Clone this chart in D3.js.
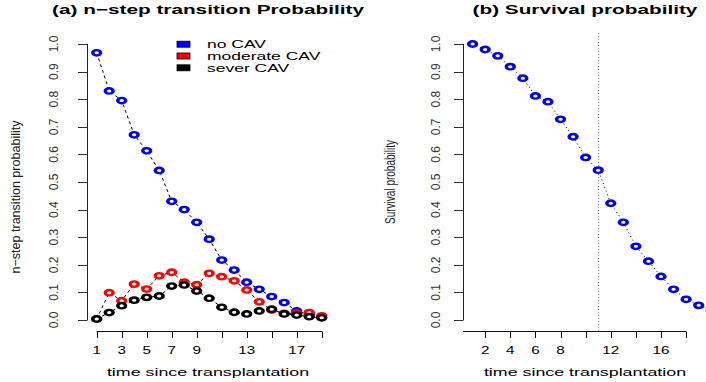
<!DOCTYPE html>
<html>
<head>
<meta charset="utf-8">
<script src="https://cdn.jsdelivr.net/npm/d3@7"></script>
<style>
  body { margin: 0; background: #fff; }
  text { font-family: "Liberation Sans", Arial, sans-serif; }
</style>
</head>
<body>
<div id="the_chart"></div>
<script>
// panel (a): n-step transition probabilities
var steps = [1, 2, 3, 4, 5, 6, 7, 8, 9, 10, 11, 12, 13, 14, 15, 16, 17, 18, 19];
var noCAV = [0.968, 0.830, 0.795, 0.671, 0.613, 0.542, 0.430, 0.400, 0.354, 0.293,
             0.217, 0.181, 0.137, 0.111, 0.085, 0.063, 0.033, 0.020, 0.010];
var moderateCAV = [0.004, 0.099, 0.070, 0.130, 0.112, 0.160, 0.173, 0.137, 0.128, 0.169,
                   0.157, 0.142, 0.109, 0.066, 0.036, 0.024, 0.025, 0.027, 0.015];
var severCAV = [0.004, 0.027, 0.052, 0.072, 0.082, 0.087, 0.123, 0.127, 0.105, 0.079,
                0.046, 0.028, 0.022, 0.033, 0.039, 0.022, 0.018, 0.012, 0.008];
var seriesNames = ["no CAV", "moderate CAV", "sever CAV"];
var seriesColors = ["#0000ff", "#ff0000", "#000000"];
var xTicksA = [1, 3, 5, 7, 9, 11, 13, 15, 17, 19];
var xLabelsA = [1, 3, 5, 7, 9, 13, 17];

// panel (b): survival
var survTime = [1, 2, 3, 4, 5, 6, 7, 8, 9, 10, 11, 12, 13, 14, 15, 16, 17, 18, 19, 20];
var survProb = [1.000, 0.980, 0.957, 0.918, 0.876, 0.812, 0.791, 0.727, 0.664, 0.589,
                0.543, 0.423, 0.354, 0.267, 0.213, 0.158, 0.111, 0.075, 0.053, 0.033];
var cutoff = 11;
var xTicksB = [2, 4, 6, 8, 10, 12, 14, 16, 18];
var xLabelsB = [2, 4, 6, 8, 12, 16];

var yTicks = [0, 0.1, 0.2, 0.3, 0.4, 0.5, 0.6, 0.7, 0.8, 0.9, 1.0];

var w = 706, h = 382;
var svg = d3.select("#the_chart").append("svg")
            .attr("width", w)
            .attr("height", h);

// the picture is wider than it is tall: stretch horizontal text to match
function stretch(sel, k) {
    sel.each(function() {
        var len = this.getComputedTextLength();
        d3.select(this).attr("textLength", len * k).attr("lengthAdjust", "spacingAndGlyphs");
    });
}

var yscale = d3.scaleLinear().domain([0, 1]).range([320, 44]);

function drawYAxis(x0, labelX) {
    var g = svg.append("g");
    g.append("line")
     .attr("x1", x0 + 0.5).attr("x2", x0 + 0.5)
     .attr("y1", yscale(0)).attr("y2", yscale(1))
     .attr("stroke", "#222");
    g.selectAll("line.tick").data(yTicks).enter().append("line")
     .attr("class", "tick")
     .attr("x1", x0 - 9).attr("x2", x0 + 0.5)
     .attr("y1", function(d) { return Math.round(yscale(d)) + 0.5; })
     .attr("y2", function(d) { return Math.round(yscale(d)) + 0.5; })
     .attr("stroke", "#333");
    g.selectAll("text").data(yTicks).enter().append("text")
     .attr("transform", function(d) { return "translate(" + labelX + "," + yscale(d) + ") rotate(-90)"; })
     .attr("text-anchor", "middle")
     .attr("font-size", 12)
     .attr("fill", "#333")
     .text(function(d) { return d3.format(".1f")(d); });
}

function drawXAxis(xscale, x1, x2, ticks, labels) {
    var g = svg.append("g");
    g.append("line")
     .attr("x1", x1).attr("x2", x2)
     .attr("y1", 331.5).attr("y2", 331.5)
     .attr("stroke", "#111");
    g.selectAll("line.tick").data(ticks).enter().append("line")
     .attr("class", "tick")
     .attr("x1", function(d) { return Math.round(xscale(d)) + 0.5; })
     .attr("x2", function(d) { return Math.round(xscale(d)) + 0.5; })
     .attr("y1", 331.5).attr("y2", 338)
     .attr("stroke", "#111");
    var lab = g.selectAll("text").data(labels).enter().append("text")
     .attr("x", function(d) { return xscale(d); })
     .attr("y", 354)
     .attr("text-anchor", "middle")
     .attr("font-size", 10.5)
     .text(function(d) { return d; });
    stretch(lab, 1.45);
}

function drawPoints(data, xs, color) {
    svg.append("g").selectAll("circle").data(data).enter().append("circle")
       .attr("transform", function(d) { return "translate(" + xs(d.x) + "," + yscale(d.y) + ") scale(1.45,1)"; })
       .attr("r", 2.7)
       .attr("fill", "#fff")
       .attr("stroke", color)
       .attr("stroke-width", 2.4);
}

function gen_transition() {
    var xscale = d3.scaleLinear().domain([1, 19]).range([96.7, 321.7]);
    var series = [noCAV, moderateCAV, severCAV];

    var line = d3.line()
                 .x(function(d) { return xscale(d.x); })
                 .y(function(d) { return yscale(d.y); });

    var tables = series.map(function(s) {
        return steps.map(function(t, i) { return {x: t, y: s[i]}; });
    });

    tables.forEach(function(tbl) {
        svg.append("path")
           .attr("d", line(tbl))
           .attr("fill", "none")
           .attr("stroke", "#000")
           .attr("stroke-width", 1)
           .attr("stroke-dasharray", "3,3");
    });
    tables.forEach(function(tbl, i) { drawPoints(tbl, xscale, seriesColors[i]); });

    drawYAxis(87, 58);
    drawXAxis(xscale, 96.7, 322, xTicksA, xLabelsA);

    var t = svg.append("text")
       .attr("x", 208).attr("y", 13.5)
       .attr("text-anchor", "middle")
       .attr("font-size", 12.5).attr("font-weight", "bold")
       .text("(a) n\u2212step transition Probability");
    stretch(t, 1.66);

    var xt = svg.append("text")
       .attr("x", 208).attr("y", 376)
       .attr("text-anchor", "middle")
       .attr("font-size", 11.5)
       .text("time since transplantation");
    stretch(xt, 1.55);

    svg.append("text")
       .attr("transform", "translate(20,197) rotate(-90)")
       .attr("text-anchor", "middle")
       .attr("font-size", 13)
       .attr("fill", "#222")
       .attr("textLength", 153).attr("lengthAdjust", "spacingAndGlyphs")
       .text("n\u2212step transition probability");

    // legend
    var leg = svg.append("g");
    seriesNames.forEach(function(name, i) {
        var cy = 44.2 + i * 11.8;
        leg.append("rect")
           .attr("x", 177).attr("y", cy - 3)
           .attr("width", 13).attr("height", 6)
           .attr("fill", seriesColors[i])
           .attr("stroke", "#000").attr("stroke-width", 0.8);
        var lt = leg.append("text")
           .attr("x", 207).attr("y", cy + 4)
           .attr("font-size", 11.5)
           .text(name);
        stretch(lt, 1.52);
    });
}

function gen_survival() {
    var xscale = d3.scaleLinear().domain([1, 19]).range([472.6, 698.7]);
    var tbl = survTime.map(function(t, i) { return {x: t, y: survProb[i]}; });

    svg.append("line")
       .attr("x1", Math.round(xscale(cutoff)) + 0.5).attr("x2", Math.round(xscale(cutoff)) + 0.5)
       .attr("y1", 33).attr("y2", 331)
       .attr("stroke", "#888")
       .attr("stroke-dasharray", "1,2");

    var line = d3.line()
                 .x(function(d) { return xscale(d.x); })
                 .y(function(d) { return yscale(d.y); });
    svg.append("path")
       .attr("d", line(tbl))
       .attr("fill", "none")
       .attr("stroke", "#000")
       .attr("stroke-dasharray", "1,3");
    drawPoints(tbl, xscale, "#0000ff");

    drawYAxis(463, 440);
    drawXAxis(xscale, 463, 686, xTicksB, xLabelsB);

    var t = svg.append("text")
       .attr("x", 585).attr("y", 13.5)
       .attr("text-anchor", "middle")
       .attr("font-size", 12.5).attr("font-weight", "bold")
       .text("(b) Survival probability");
    stretch(t, 1.66);

    var xt = svg.append("text")
       .attr("x", 585).attr("y", 376)
       .attr("text-anchor", "middle")
       .attr("font-size", 11.5)
       .text("time since transplantation");
    stretch(xt, 1.55);

    svg.append("text")
       .attr("transform", "translate(395,182) rotate(-90)")
       .attr("text-anchor", "middle")
       .attr("font-size", 15)
       .attr("fill", "#222")
       .attr("textLength", 84).attr("lengthAdjust", "spacingAndGlyphs")
       .text("Survival probability");
}

gen_transition();
gen_survival();
</script>
</body>
</html>
